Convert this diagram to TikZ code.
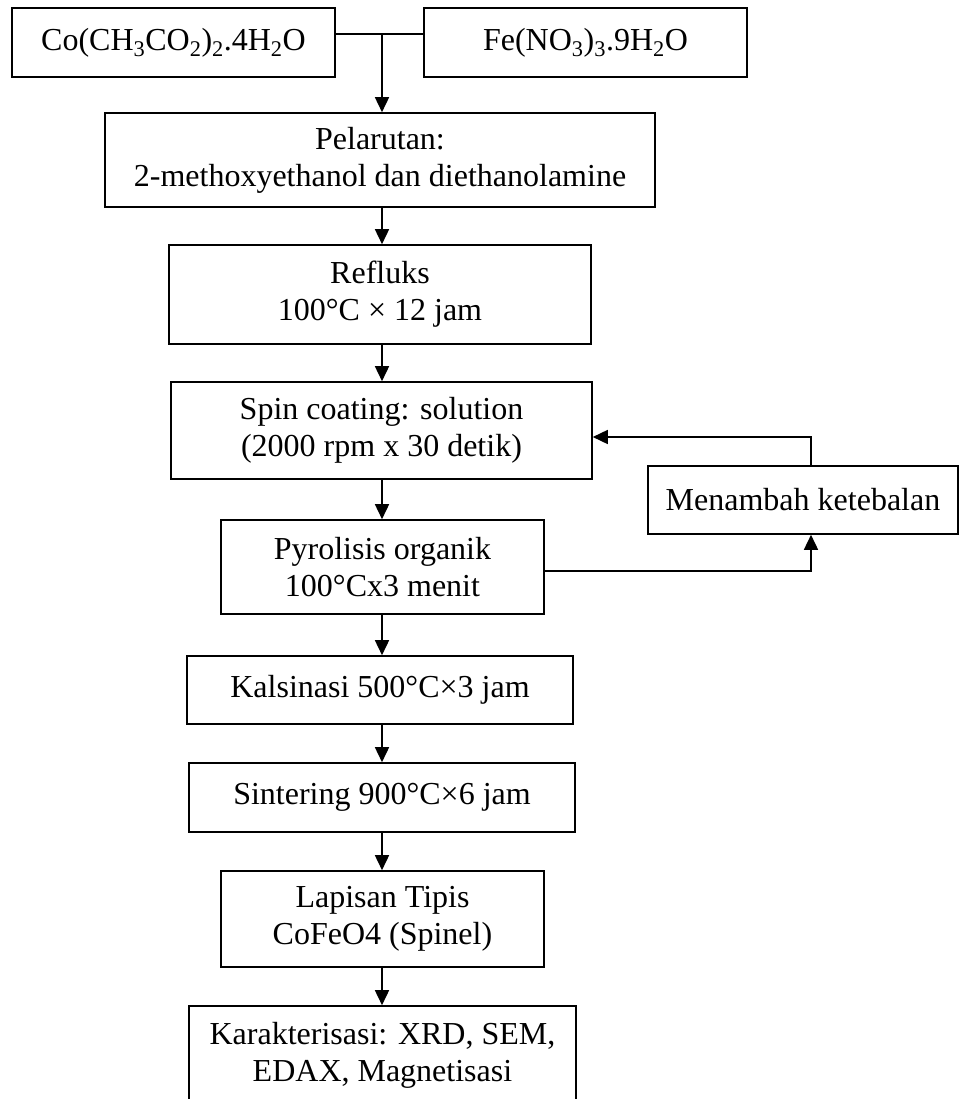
\documentclass[tikz,border=0pt]{standalone}
\usepackage{fontspec}
\setmainfont{Liberation Serif}
\usetikzlibrary{arrows.meta}
\begin{document}
\begin{tikzpicture}[x=1pt,y=-1pt,
  blk/.style={draw, line width=1.6pt, inner sep=0pt, align=center,
    font=\fontsize{32}{37}\selectfont},
  conn/.style={line width=1.6pt},
  arr/.style={line width=1.6pt, -{Triangle[length=15pt,width=14pt]}}]
\clip (0,0) rectangle (959,1099);
\node[blk, minimum width=323pt, minimum height=69pt] (b1) at (173.5,42.5) {Co(CH\textsubscript{3}CO\textsubscript{2})\textsubscript{2}.4H\textsubscript{2}O};
\node[blk, minimum width=323pt, minimum height=69pt] (b2) at (585.5,42.5) {Fe(NO\textsubscript{3})\textsubscript{3}.9H\textsubscript{2}O};
\node[blk, minimum width=550pt, minimum height=94pt] (b3) at (380,160) {Pelarutan:\\2-methoxyethanol dan diethanolamine};
\node[blk, minimum width=422pt, minimum height=99pt] (b4) at (380,294.5) {Refluks\\100°C × 12 jam};
\node[blk, minimum width=421pt, minimum height=97pt] (b5) at (381.5,430.5) {Spin coating: solution\\(2000 rpm x 30 detik)};
\node[blk, minimum width=323pt, minimum height=94pt] (b6) at (382.5,567) {Pyrolisis organik\\100°Cx3 menit};
\node[blk, minimum width=310pt, minimum height=68pt] (bm) at (803,500) {Menambah ketebalan};
\node[blk, minimum width=386pt, minimum height=68pt] (b7) at (380,690) {Kalsinasi 500°C×3 jam};
\node[blk, minimum width=386pt, minimum height=69pt] (b8) at (382,797.5) {Sintering 900°C×6 jam};
\node[blk, minimum width=323pt, minimum height=96pt] (b9) at (382.5,919) {Lapisan Tipis\\CoFeO4 (Spinel)};
\node[blk, minimum width=387pt, minimum height=98pt] (b10) at (382.5,1055) {Karakterisasi: XRD, SEM,\\EDAX, Magnetisasi};
\coordinate (j) at (382,34);
\coordinate (ax) at (382,0);
\coordinate (fb1) at (811,571);
\coordinate (fb2) at (811,437);
\draw[conn] (b1.east |- j) -- (b2.west |- j);
\draw[arr] (j) -- (b3.north -| j);
\draw[arr] (b3.south -| ax) -- (b4.north -| ax);
\draw[arr] (b4.south -| ax) -- (b5.north -| ax);
\draw[arr] (b5.south -| ax) -- (b6.north -| ax);
\draw[arr] (b6.south -| ax) -- (b7.north -| ax);
\draw[arr] (b7.south -| ax) -- (b8.north -| ax);
\draw[arr] (b8.south -| ax) -- (b9.north -| ax);
\draw[arr] (b9.south -| ax) -- (b10.north -| ax);
\draw[arr] (b6.east |- fb1) -- (fb1) -- (bm.south -| fb1);
\draw[arr] (bm.north -| fb2) -- (fb2) -- (b5.east |- fb2);
\end{tikzpicture}
\end{document}
